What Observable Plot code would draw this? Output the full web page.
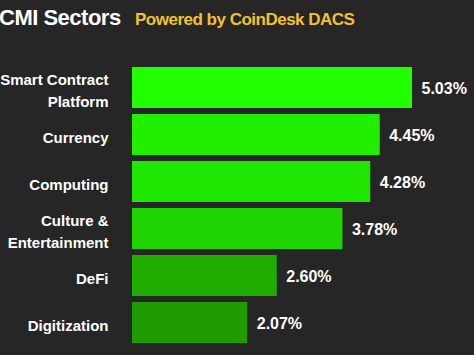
<!DOCTYPE html>
<html>
<head>
<meta charset="utf-8">
<script src="https://cdn.jsdelivr.net/npm/d3@7"></script>
<script src="https://cdn.jsdelivr.net/npm/@observablehq/plot@0.6"></script>
<style>
  html, body { margin: 0; padding: 0; background: #262626; }
  body { width: 474px; height: 355px; overflow: hidden; font-family: "Liberation Sans", Arial, sans-serif; }
  #title { position: relative; height: 50px; white-space: nowrap; }
  #title .main { position: absolute; left: -1px; top: 5px; font-size: 22px; font-weight: bold; color: #ffffff; letter-spacing: -0.5px; }
  #title .sub { position: absolute; left: 135px; top: 10px; font-size: 17px; font-weight: bold; color: #f2c12e; letter-spacing: -0.5px; }
  #chart svg { display: block; }
</style>
</head>
<body>
<div id="title"><span class="main">CMI Sectors</span><span class="sub">Powered by CoinDesk DACS</span></div>
<div id="chart"></div>
<script>
const categories = ["Smart Contract\nPlatform", "Currency", "Computing", "Culture &\nEntertainment", "DeFi", "Digitization"];
const values = [5.03, 4.45, 4.28, 3.78, 2.60, 2.07];
const valueLabels = ["5.03%", "4.45%", "4.28%", "3.78%", "2.60%", "2.07%"];
const barColors = ["#22ff00", "#20f000", "#1fe600", "#1fd400", "#1fae00", "#1e9c00"];

const data = categories.map((c, i) => ({category: c, value: values[i], label: valueLabels[i]}));

const chart = Plot.plot({
  width: 474,
  height: 305,
  marginLeft: 132,
  marginRight: 8,
  marginTop: 10,
  marginBottom: 6,
  style: {background: "#262626", fontFamily: "'Liberation Sans', Arial, sans-serif"},
  x: {domain: [0, 6], axis: null},
  y: {domain: categories, padding: 0.13, axis: null},
  color: {domain: categories, range: barColors},
  marks: [
    Plot.barX(data, {y: "category", x: "value", fill: "category"}),
    Plot.text(data, {
      y: "category", x: 0, text: "category", textAnchor: "end", dx: -24, dy: 1,
      fill: "#ffffff", fontSize: 15, fontWeight: "bold", lineHeight: 1.5
    }),
    Plot.text(data, {
      y: "category", x: "value", text: "label", textAnchor: "start", dx: 9, dy: 1,
      fill: "#ffffff", fontSize: 16, fontWeight: "bold"
    })
  ]
});
document.getElementById("chart").appendChild(chart);
</script>
</body>
</html>
